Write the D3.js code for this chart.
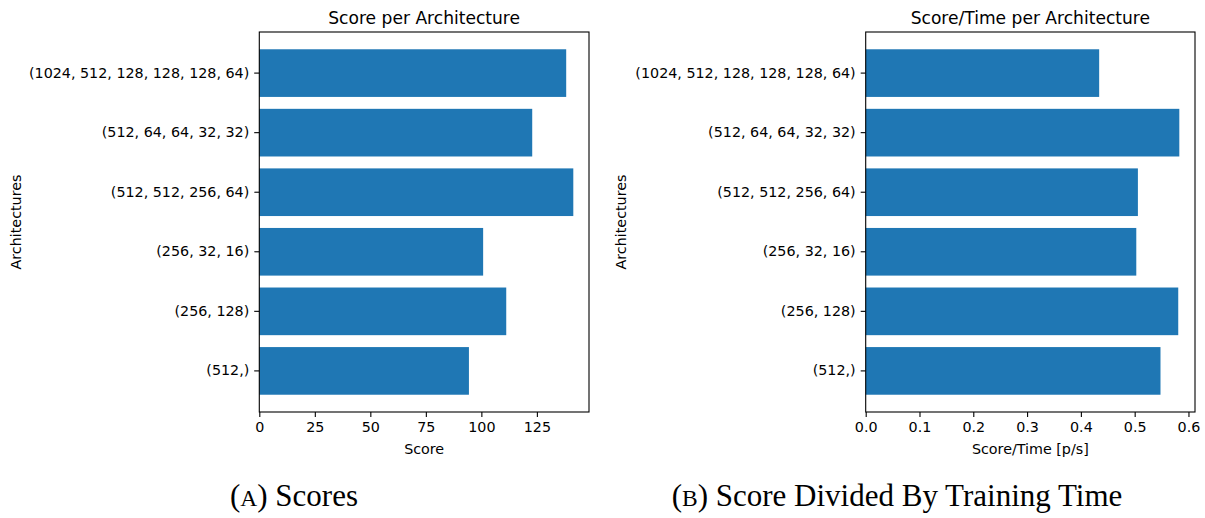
<!DOCTYPE html>
<html>
<head>
<meta charset="utf-8">
<script src="https://cdn.jsdelivr.net/npm/d3@7"></script>
<style>
  html, body { margin: 0; padding: 0; background: #fff; }
  svg { display: block; }
  text { font-family: "DejaVu Sans", sans-serif; fill: #000; }
  .caption { font-family: "Liberation Serif", "DejaVu Serif", serif; }
</style>
</head>
<body>
<svg id="fig" width="1205" height="518"></svg>
<script>
// Network architectures (hidden layer sizes), listed bottom to top
const architectures = [
  "(512,)",
  "(256, 128)",
  "(256, 32, 16)",
  "(512, 512, 256, 64)",
  "(512, 64, 64, 32, 32)",
  "(1024, 512, 128, 128, 128, 64)"
];
// Final score reached by each architecture
const scores = [94.4, 111.2, 100.8, 141.4, 122.9, 138.2];
// Score divided by training time, in points per second
const scorePerTime = [0.548, 0.581, 0.503, 0.506, 0.583, 0.434];

const scoreTicks = [0, 25, 50, 75, 100, 125];
const rateTicks = [0.0, 0.1, 0.2, 0.3, 0.4, 0.5, 0.6];

const svg = d3.select("#fig");
const barColor = "#1f77b4";
const tickFont = 14.3;

function panel(opts) {
  const { left, right, top, bottom, values, ticks, fmt, title, xLabel, yLabelX } = opts;
  const g = svg.append("g");

  const x = d3.scaleLinear()
    .domain([0, d3.max(values) * 1.05])
    .range([left, right]);

  const y = d3.scaleBand()
    .domain(d3.range(architectures.length))
    .range([bottom, top])
    .paddingInner(0.2)
    .paddingOuter(0.29);

  // bars
  g.append("g").selectAll("rect")
    .data(values)
    .join("rect")
    .attr("x", x(0))
    .attr("y", (d, i) => y(i))
    .attr("width", d => x(d) - x(0))
    .attr("height", y.bandwidth())
    .attr("fill", barColor);

  // x axis
  const xAxis = d3.axisBottom(x)
    .tickValues(ticks)
    .tickFormat(fmt)
    .tickSize(5)
    .tickPadding(5);
  const gx = g.append("g")
    .attr("transform", `translate(0,${bottom})`)
    .call(xAxis);
  gx.select(".domain").remove();
  gx.selectAll(".tick line").attr("stroke", "#000").attr("stroke-width", 1.1);
  gx.selectAll(".tick text").attr("font-size", tickFont).attr("font-family", "DejaVu Sans").attr("fill", "#000");

  // y axis
  const yAxis = d3.axisLeft(y)
    .tickFormat(i => architectures[i])
    .tickSize(5)
    .tickPadding(5);
  const gy = g.append("g")
    .attr("transform", `translate(${left},0)`)
    .call(yAxis);
  gy.select(".domain").remove();
  gy.selectAll(".tick line").attr("stroke", "#000").attr("stroke-width", 1.1);
  gy.selectAll(".tick text").attr("font-size", tickFont).attr("font-family", "DejaVu Sans").attr("fill", "#000");

  // frame
  g.append("rect")
    .attr("x", left).attr("y", top)
    .attr("width", right - left).attr("height", bottom - top)
    .attr("fill", "none").attr("stroke", "#000").attr("stroke-width", 1.1);

  // title
  g.append("text")
    .attr("x", (left + right) / 2).attr("y", top - 8)
    .attr("text-anchor", "middle").attr("font-size", 17.1)
    .text(title);

  // axis labels
  g.append("text")
    .attr("x", (left + right) / 2).attr("y", bottom + 42)
    .attr("text-anchor", "middle").attr("font-size", tickFont)
    .text(xLabel);

  g.append("text")
    .attr("transform", `translate(${yLabelX},${(top + bottom) / 2}) rotate(-90)`)
    .attr("text-anchor", "middle").attr("font-size", tickFont)
    .text("Architectures");
}

panel({
  left: 259.3, right: 589, top: 32, bottom: 412,
  values: scores, ticks: scoreTicks, fmt: d3.format("d"),
  title: "Score per Architecture", xLabel: "Score", yLabelX: 20.5
});

panel({
  left: 865.7, right: 1195, top: 32, bottom: 412,
  values: scorePerTime, ticks: rateTicks, fmt: d3.format(".1f"),
  title: "Score/Time per Architecture", xLabel: "Score/Time [p/s]", yLabelX: 626
});

// subfigure captions
const captions = [
  { x: 294, letter: "A", rest: " Scores" },
  { x: 897, letter: "B", rest: " Score Divided By Training Time" }
];
captions.forEach(c => {
  const t = svg.append("text")
    .attr("class", "caption")
    .attr("x", c.x).attr("y", 506)
    .attr("text-anchor", "middle")
    .attr("font-size", 31)
    .style("font-family", "'Liberation Serif', serif");
  t.append("tspan").text("(");
  t.append("tspan").attr("font-size", 23.5).text(c.letter);
  t.append("tspan").text(")" + c.rest);
});
</script>
</body>
</html>
